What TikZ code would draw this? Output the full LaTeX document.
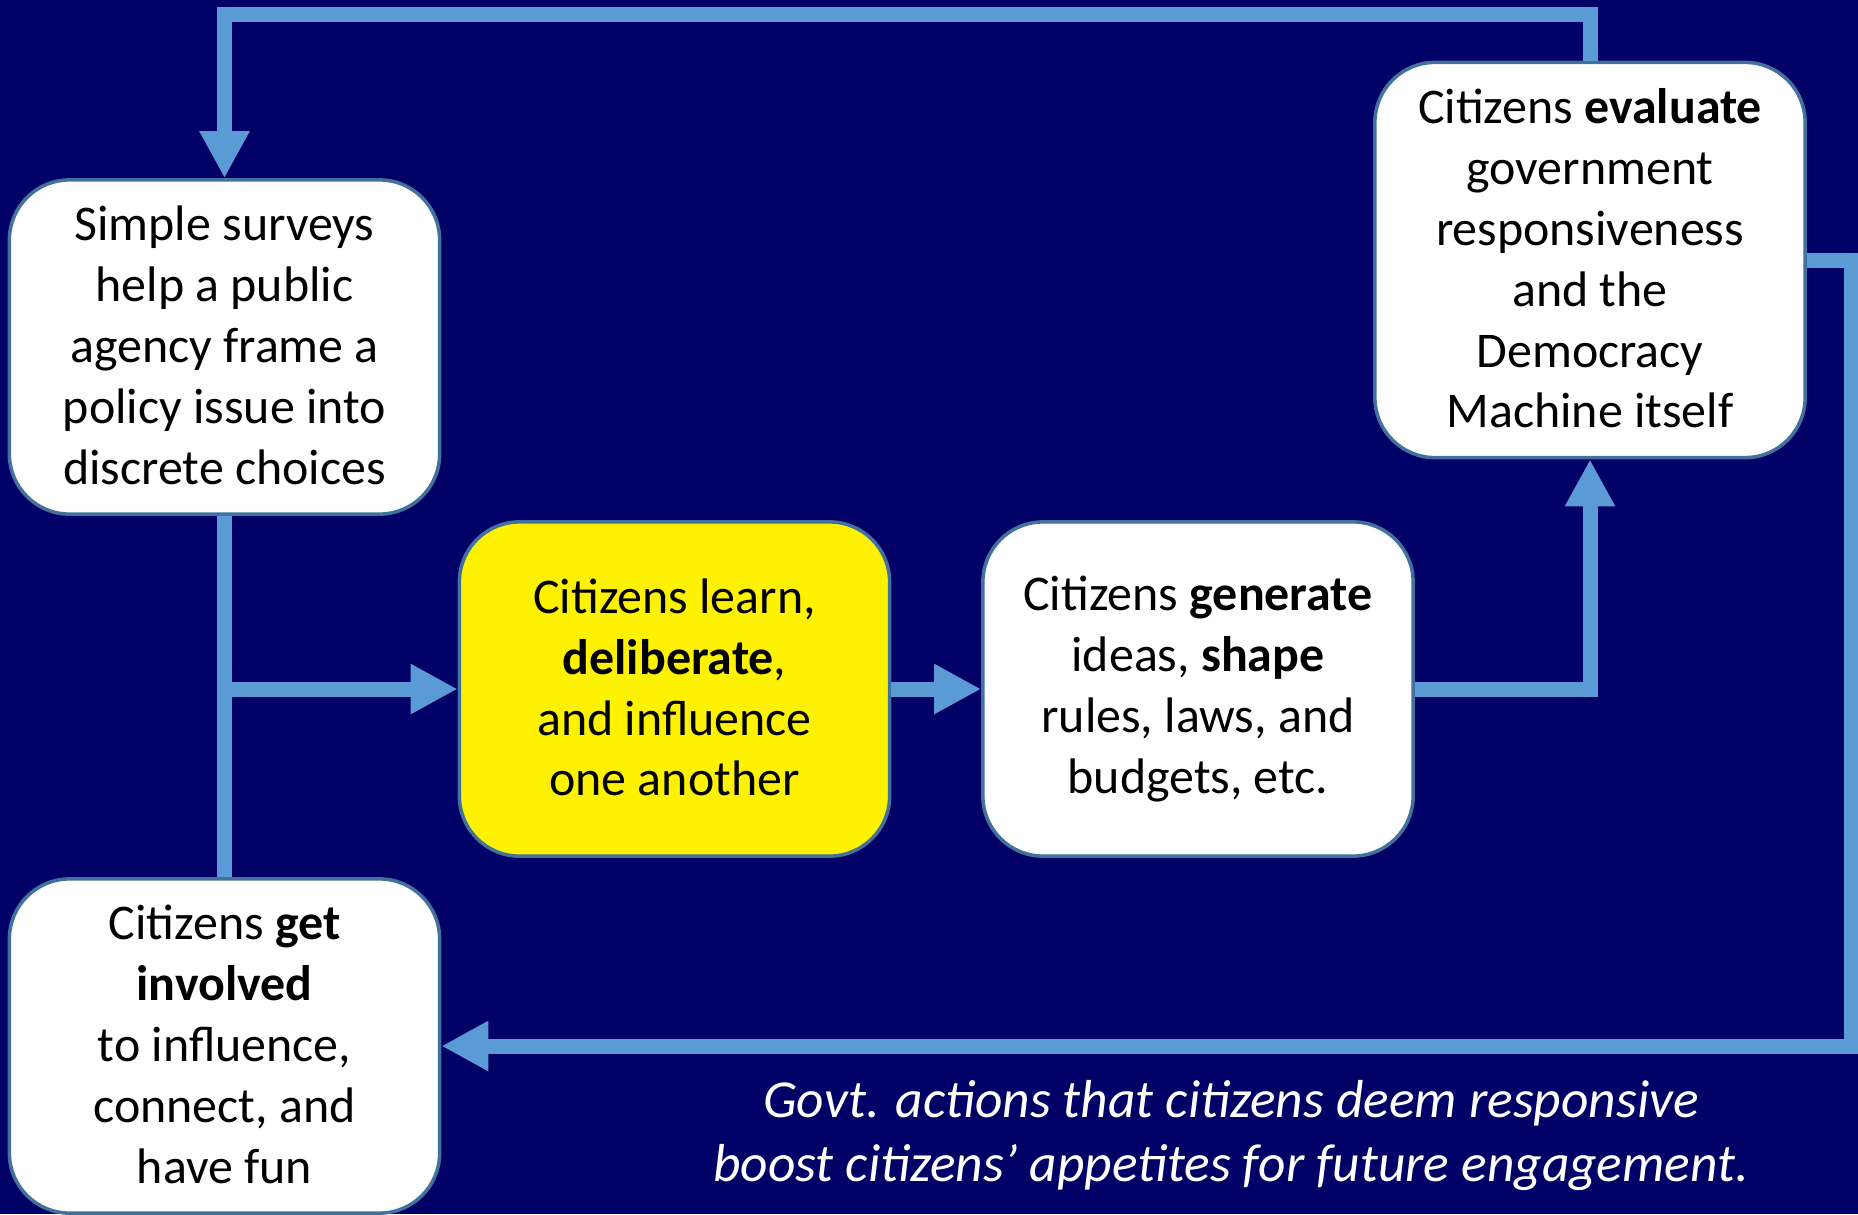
\documentclass[tikz,border=0pt]{standalone}
\usepackage{fontspec}
\setmainfont{Carlito}
\usetikzlibrary{arrows.meta,positioning}
\definecolor{navy}{RGB}{0,0,102}
\definecolor{flowblue}{RGB}{91,155,213}
\definecolor{rimblue}{RGB}{65,113,156}

\begin{document}
\begin{tikzpicture}[x=0.01cm,y=-0.01cm]
    \def\linestrut{\rule[-1pt]{0pt}{15.1pt}}
    \tikzset{stage/.style={draw=rimblue, line width=1pt, fill=white, rounded corners=0.6cm,
                minimum width=4.3cm, minimum height=3.34cm, inner sep=0pt, align=center,
                font=\fontsize{14.2}{17.3}\selectfont,
                execute at begin node=\linestrut, execute at end node=\linestrut},
             flow/.style={draw=flowblue, line width=0.15cm, line join=miter,
                -{Triangle[width=0.47cm,length=0.47cm]}},
             wire/.style={draw=flowblue, line width=0.15cm, line join=miter}}

    \useasboundingbox (0,0) rectangle (1858,1214);
    \fill[navy] (0,0) rectangle (1858,1214);

    \node[stage] (survey) at (224.5,347) {Simple surveys\\help a public\\agency frame a\\policy issue into\\discrete choices};
    \node[stage, fill=yellow] (learn) at (674.5,689) {Citizens learn,\\\textbf{deliberate},\\and influence\\one another};
    \node[stage] (shape) at (1198,689) {Citizens \textbf{generate}\\ideas, \textbf{shape}\\rules, laws, and\\budgets, etc.};
    \node[stage, minimum height=3.95cm] (evaluate) at (1590,260) {Citizens \textbf{evaluate}\\government\\responsiveness\\and the\\Democracy\\Machine itself};
    \node[stage] (involve) at (224.5,1046) {Citizens \textbf{get}\\\textbf{involved}\\to influence,\\connect, and\\have fun};

    \node[text=white, align=center, font=\fontsize{15.2}{18.2}\selectfont\itshape] (note) at (1231,1135)
        {Govt. actions that citizens deem responsive\\boost citizens' appetites for future engagement.};

    \coordinate (ceiling) at (0,14);
    \coordinate (rightedge) at (1851,0);
    \coordinate (fork) at (survey.south |- learn.west);

    \draw[wire] (survey.south) -- (involve.north);
    \draw[flow] (fork) -- (learn.west);
    \draw[flow] (learn.east) -- (shape.west);
    \draw[flow] (shape.east) -| (evaluate.south);
    \draw[flow] (evaluate.north) |- (survey.north |- ceiling) -- (survey.north);
    \draw[flow] (evaluate.east) -| (rightedge |- involve.east) -- (involve.east);
\end{tikzpicture}
\end{document}
